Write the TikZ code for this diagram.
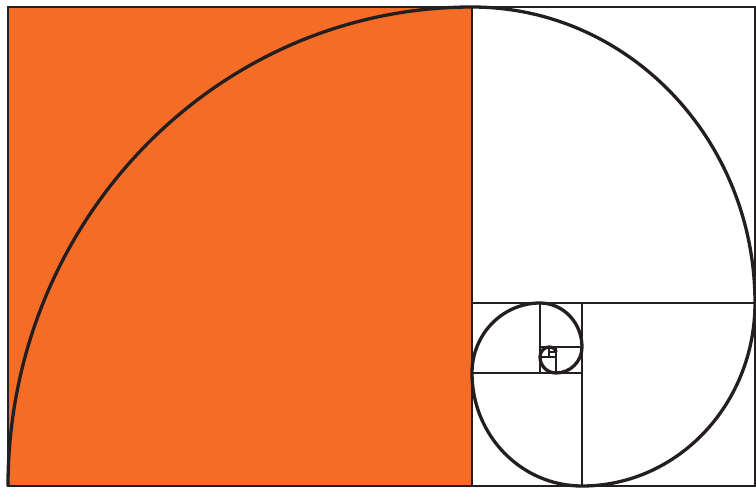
\documentclass[tikz,border=0pt]{standalone}
\definecolor{goldorange}{RGB}{244,108,38}
\definecolor{inkline}{RGB}{35,31,32}
\begin{document}
\begin{tikzpicture}[x=1pt,y=1pt]
    \useasboundingbox (0,0) rectangle (756,-488);
    \fill[goldorange] (8,-7) rectangle (472,-486);
    \foreach \l/\t/\r/\b in {
      8/7/472/486,
      472/7/755/303,
      582/303/755/486,
      472/373/582/486,
      472/303/540/373,
      540/303/582/347,
      556/347/582/373,
      540/357/556/373,
      540/347/549/357,
      549/347/556/352
    }{
      \draw[inkline, line width=2.9pt] (\l,-\t) rectangle (\r,-\b);
    }
    \draw[inkline, line width=3.3pt] (8,-486)
      arc[start angle=180, end angle=90, x radius=464, y radius=479]
      arc[start angle=90, end angle=0, x radius=283, y radius=296]
      arc[start angle=0, end angle=-90, x radius=173, y radius=183]
      arc[start angle=-90, end angle=-180, x radius=110, y radius=113]
      arc[start angle=180, end angle=90, x radius=68, y radius=70]
      arc[start angle=90, end angle=0, x radius=42, y radius=44]
      arc[start angle=0, end angle=-90, x radius=26, y radius=26]
      arc[start angle=-90, end angle=-180, x radius=16, y radius=16]
      arc[start angle=180, end angle=90, x radius=9, y radius=10]
      arc[start angle=90, end angle=0, x radius=7, y radius=5];
\end{tikzpicture}
\end{document}
